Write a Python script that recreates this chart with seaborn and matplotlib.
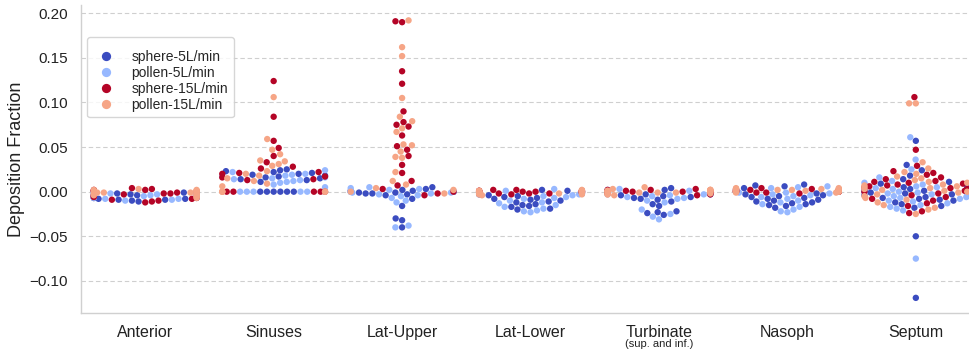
import numpy as np
import pandas as pd
import matplotlib
matplotlib.use("Agg")
import matplotlib.pyplot as plt
import matplotlib.transforms as mtransforms
import seaborn as sns
import warnings

warnings.filterwarnings("ignore")

regions = ["Anterior", "Sinuses", "Lat-Upper", "Lat-Lower", "Turbinate", "Nasoph", "Septum"]
groups = ["sphere-5L/min", "pollen-5L/min", "sphere-15L/min", "pollen-15L/min"]

# Deposition fractions per region and particle/flow group
anterior_sphere5 = [-0.001, -0.002, -0.003, -0.004, -0.004, -0.005, -0.005, -0.006, -0.006, -0.007,
                    -0.007, -0.008, -0.008, -0.009, -0.009, -0.010, -0.011, -0.003, -0.002, 0.000]
anterior_pollen5 = [-0.002, -0.003, -0.003, -0.004, -0.004, -0.005, -0.005, -0.005, -0.006, -0.006,
                    -0.007, -0.007, -0.008, -0.008, -0.009, -0.010, -0.004, -0.003, -0.002, -0.001]
anterior_sphere15 = [0.004, 0.003, 0.002, 0.002, 0.001, 0.000, -0.001, -0.002, -0.003, -0.004,
                     -0.005, -0.006, -0.007, -0.008, -0.009, -0.010, -0.012, -0.011, 0.001, -0.002]
anterior_pollen15 = [0.003, 0.002, 0.001, 0.000, 0.000, -0.001, -0.001, -0.002, -0.002, -0.003,
                     -0.003, -0.004, -0.004, -0.005, -0.006, -0.007, 0.001, -0.001, 0.002, 0.000]

sinuses_sphere5 = [0.0, 0.0, 0.0, 0.0, 0.0, 0.0, 0.025, 0.024, 0.023, 0.022,
                   0.021, 0.020, 0.019, 0.018, 0.017, 0.016, 0.015, 0.014, 0.013, 0.011]
sinuses_pollen5 = [0.0, 0.0, 0.0, 0.0, 0.0, 0.024, 0.022, 0.020, 0.019, 0.018,
                   0.017, 0.016, 0.015, 0.014, 0.013, 0.012, 0.011, 0.010, 0.008, 0.005]
sinuses_sphere15 = [0.0, 0.0, 0.0, 0.0, 0.0, 0.124, 0.084, 0.057, 0.049, 0.040,
                    0.033, 0.028, 0.026, 0.022, 0.021, 0.020, 0.016, 0.014, 0.013, 0.017]
sinuses_pollen15 = [0.0, 0.0, 0.0, 0.0, 0.0, 0.106, 0.059, 0.047, 0.042, 0.035,
                    0.034, 0.031, 0.029, 0.023, 0.020, 0.018, 0.015, 0.012, 0.009, 0.006]

latupper_sphere5 = [-0.040, -0.032, -0.030, -0.016, -0.008, -0.004, -0.003, -0.002, -0.001, 0.000,
                    0.000, 0.001, 0.002, 0.003, 0.005, -0.002, 0.000, 0.001, -0.001, 0.000]
latupper_pollen5 = [-0.040, -0.038, -0.012, -0.010, -0.007, -0.005, -0.004, -0.003, -0.002, -0.001,
                    0.000, 0.000, 0.001, 0.002, 0.003, 0.004, 0.005, -0.001, 0.001, 0.000]
latupper_sphere15 = [0.191, 0.190, 0.135, 0.121, 0.090, 0.078, 0.075, 0.073, 0.063, 0.051,
                     0.047, 0.040, 0.030, 0.021, 0.012, 0.007, 0.003, -0.002, -0.004, 0.000]
latupper_pollen15 = [0.192, 0.162, 0.152, 0.105, 0.084, 0.079, 0.071, 0.067, 0.053, 0.052,
                     0.045, 0.039, 0.038, 0.022, 0.012, 0.008, 0.004, 0.002, 0.000, -0.002]

latlower_sphere5 = [-0.020, -0.019, -0.017, -0.016, -0.015, -0.014, -0.012, -0.011, -0.010, -0.009,
                    -0.008, -0.007, -0.006, -0.005, -0.004, -0.003, 0.001, 0.002, -0.002, 0.000]
latlower_pollen5 = [-0.023, -0.022, -0.021, -0.019, -0.017, -0.015, -0.013, -0.012, -0.010, -0.008,
                    -0.007, -0.006, -0.005, -0.004, -0.003, -0.002, 0.003, 0.000, -0.001, 0.001]
latlower_sphere15 = [0.002, 0.001, 0.001, 0.000, 0.000, 0.000, -0.001, -0.002, -0.002, -0.003,
                     0.000, 0.001, -0.001, 0.000, 0.002, -0.001, 0.000, 0.001, -0.002, 0.000]
latlower_pollen15 = [0.001, 0.000, -0.001, -0.002, -0.003, -0.001, 0.000, 0.001, -0.002, -0.004,
                     -0.003, 0.002, -0.001, 0.000, 0.001, -0.002, 0.000, -0.001, 0.001, 0.000]

turbinate_sphere5 = [-0.026, -0.024, -0.023, -0.022, -0.016, -0.014, -0.011, -0.009, -0.008, -0.007,
                     -0.006, -0.005, -0.004, -0.003, -0.002, -0.001, 0.000, 0.004, 0.002, -0.003]
turbinate_pollen5 = [-0.031, -0.028, -0.025, -0.020, -0.012, -0.010, -0.008, -0.007, -0.006, -0.005,
                     -0.004, -0.003, -0.002, -0.001, 0.000, 0.001, 0.002, 0.003, -0.003, -0.002]
turbinate_sphere15 = [0.003, 0.002, 0.001, 0.000, 0.000, -0.001, -0.002, -0.003, 0.001, 0.000,
                      -0.001, 0.000, 0.002, -0.002, 0.000, 0.001, -0.001, 0.000, -0.004, 0.000]
turbinate_pollen15 = [0.005, 0.003, 0.002, 0.001, 0.000, -0.001, -0.002, -0.003, -0.004, 0.001,
                      0.000, -0.001, 0.002, -0.002, 0.000, 0.001, -0.003, 0.000, 0.002, -0.001]

nasoph_sphere5 = [0.008, 0.007, 0.006, 0.004, -0.002, -0.004, -0.006, -0.008, -0.009, -0.010,
                  -0.011, -0.012, -0.013, -0.014, -0.015, -0.016, -0.018, -0.003, -0.005, -0.007]
nasoph_pollen5 = [0.006, 0.005, 0.004, 0.002, 0.000, -0.001, -0.002, -0.003, -0.004, -0.005,
                  -0.006, -0.008, -0.010, -0.012, -0.014, -0.017, -0.020, -0.023, -0.022, -0.001]
nasoph_sphere15 = [0.003, 0.002, 0.001, 0.000, 0.001, 0.000, -0.001, 0.002, 0.000, 0.003,
                   -0.001, 0.000, 0.001, 0.002, 0.000, -0.002, 0.001, 0.000, 0.004, 0.002]
nasoph_pollen15 = [0.004, 0.003, 0.002, 0.001, 0.000, -0.001, 0.002, 0.003, 0.001, 0.000,
                   0.002, 0.001, 0.000, 0.003, -0.001, 0.002, 0.001, 0.004, 0.000, 0.002]

septum_sphere5 = [0.057, 0.030, 0.024, 0.018, 0.014, 0.011, 0.009, 0.007, 0.005, 0.004,
                  0.003, 0.002, 0.001, 0.000, -0.001, -0.002, -0.003, -0.004, -0.005, -0.006,
                  -0.007, -0.008, -0.009, -0.010, -0.012, -0.014, -0.016, -0.018, -0.050, -0.119]
septum_pollen5 = [0.061, 0.036, 0.025, 0.016, 0.012, 0.010, 0.008, 0.006, 0.005, 0.004,
                  0.003, 0.002, 0.001, 0.000, -0.001, -0.002, -0.003, -0.004, -0.005, -0.006,
                  -0.007, -0.008, -0.010, -0.011, -0.013, -0.015, -0.017, -0.019, -0.021, -0.075]
septum_sphere15 = [0.106, 0.047, 0.029, 0.023, 0.021, 0.019, 0.016, 0.014, 0.012, 0.011,
                   0.010, 0.009, 0.008, 0.007, 0.006, 0.005, 0.004, 0.003, 0.002, 0.001,
                   0.000, -0.002, -0.004, -0.006, -0.008, -0.010, -0.013, -0.016, -0.022, -0.024]
septum_pollen15 = [0.099, 0.099, 0.033, 0.026, 0.022, 0.020, 0.017, 0.015, 0.013, 0.011,
                   0.010, 0.008, 0.007, 0.006, 0.005, 0.004, 0.003, 0.002, 0.001, 0.000,
                   -0.001, -0.003, -0.005, -0.007, -0.009, -0.012, -0.015, -0.018, -0.020, -0.025]

table = {
    "Anterior": [anterior_sphere5, anterior_pollen5, anterior_sphere15, anterior_pollen15],
    "Sinuses": [sinuses_sphere5, sinuses_pollen5, sinuses_sphere15, sinuses_pollen15],
    "Lat-Upper": [latupper_sphere5, latupper_pollen5, latupper_sphere15, latupper_pollen15],
    "Lat-Lower": [latlower_sphere5, latlower_pollen5, latlower_sphere15, latlower_pollen15],
    "Turbinate": [turbinate_sphere5, turbinate_pollen5, turbinate_sphere15, turbinate_pollen15],
    "Nasoph": [nasoph_sphere5, nasoph_pollen5, nasoph_sphere15, nasoph_pollen15],
    "Septum": [septum_sphere5, septum_pollen5, septum_sphere15, septum_pollen15],
}

rows = []
for region in regions:
    for group, values in zip(groups, table[region]):
        for v in values:
            rows.append({"region": region, "group": group, "fraction": v})
df = pd.DataFrame(rows)

sns.set_style("whitegrid")
plt.rcParams["font.family"] = ["Liberation Sans", "DejaVu Sans"]

# coolwarm: dark blue, light blue, dark red, light red
cmap = matplotlib.colormaps["coolwarm"]
palette = [cmap(0.0), cmap(0.28), cmap(1.0), cmap(0.72)]

fig = plt.figure(figsize=(9.69, 3.54), dpi=100)
ax = fig.add_axes([0.0836, 0.115, 0.9278, 0.871])

sns.swarmplot(data=df, x="region", y="fraction", hue="group", order=regions,
              hue_order=groups, palette=palette, size=4.6, ax=ax, zorder=3)

ax.set_xlim(-0.5, 6.5)
ax.set_ylim(-0.1363, 0.2093)
ax.set_yticks([-0.10, -0.05, 0.00, 0.05, 0.10, 0.15, 0.20])
ax.yaxis.set_major_formatter(matplotlib.ticker.FuncFormatter(lambda v, p: f"{v:.2f}".replace("-", "\u2212")))
ax.set_xlabel("")
ax.set_ylabel("Deposition Fraction", fontsize=13, color="#222222")
ax.yaxis.set_label_coords(-0.062, 0.5)
ax.tick_params(axis="y", labelsize=11, pad=6, colors="#222222")
ax.tick_params(axis="x", labelsize=11.5, pad=5, colors="#222222")

ax.xaxis.grid(False)
ax.yaxis.grid(True, color="#cfcfcf", linewidth=0.8, linestyle=(0, (4, 2.5)))
ax.set_axisbelow(True)
sns.despine(ax=ax, top=True, right=True)
for side in ("left", "bottom"):
    ax.spines[side].set_color("#d0d0d0")
    ax.spines[side].set_linewidth(1.0)

trans = mtransforms.blended_transform_factory(ax.transData, ax.transAxes)
ax.text(4, -0.098, "(sup. and inf.)", transform=trans, ha="center", va="center",
        fontsize=8, color="#222222")

sns.move_legend(ax, "upper left", bbox_to_anchor=(0.0067, 0.896), borderaxespad=0,
                title=" ", title_fontsize=4, fontsize=10, markerscale=1.45,
                labelspacing=0.15, frameon=True)

fig.savefig("out.png", dpi=100)
